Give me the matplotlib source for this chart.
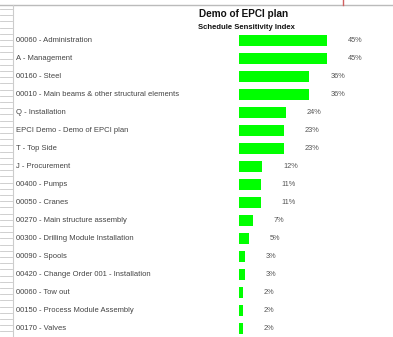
import matplotlib.pyplot as plt
from matplotlib.transforms import blended_transform_factory
from matplotlib.lines import Line2D

# Schedule sensitivity index per task
tasks = [
    "00060 - Administration",
    "A - Management",
    "00160 - Steel",
    "00010 - Main beams & other structural elements",
    "Q - Installation",
    "EPCI Demo - Demo of EPCI plan",
    "T - Top Side",
    "J - Procurement",
    "00400 - Pumps",
    "00050 - Cranes",
    "00270 - Main structure assembly",
    "00300 - Drilling Module Installation",
    "00090 - Spools",
    "00420 - Change Order 001 - Installation",
    "00060 - Tow out",
    "00150 - Process Module Assembly",
    "00170 - Valves",
]
ssi = [45, 45, 36, 36, 24, 23, 23, 12, 11, 11, 7, 5, 3, 3, 2, 2, 2]

W, H = 393, 337
fig = plt.figure(figsize=(W / 100, H / 100), dpi=100)
plt.rcParams['font.family'] = ['Liberation Sans', 'DejaVu Sans']

# bar area
ax_left = 239 / W
ax_w = 150 / W
top_px = 31.7
ax = fig.add_axes([ax_left, 0, ax_w, 1 - top_px / H])
rows = list(range(len(tasks)))
ax.barh(rows, ssi, height=0.58, color='#00ff00', edgecolor='none')
ax.set_xlim(0, 150 / 1.955)
ax.set_ylim((H - top_px) / 18 - 0.5, -0.5)
ax.axis('off')

# task labels on the left, value labels after the bars
tr = blended_transform_factory(fig.transFigure, ax.transData)
for r, name, v in zip(rows, tasks, ssi):
    ax.text(16 / W, r, name, transform=tr, fontsize=5.5, color='#444444',
            va='center', ha='left', clip_on=False)
    ax.annotate(f"{v}%", (v, r), xytext=(15, 0), textcoords='offset points',
                fontsize=5.3, color='#555555', va='center', ha='left',
                annotation_clip=False)

fig.text(244 / W, 1 - 14 / H, "Demo of EPCI plan", fontsize=7.2,
         fontweight='bold', ha='center', va='center', color='#111111')
fig.text(246 / W, 1 - 27.5 / H, "Schedule Sensitivity Index", fontsize=5.5,
         fontweight='bold', ha='center', va='center', color='#111111')

# spreadsheet frame bits
fig.add_artist(Line2D([0, 1], [1 - 4.5 / H] * 2, color='#bbbbbb', lw=1))
fig.add_artist(Line2D([13 / W] * 2, [0, 1 - 5 / H], color='#cccccc', lw=0.8))
y = 9
while y < H:
    fig.add_artist(Line2D([0, 12 / W], [1 - y / H] * 2, color='#c8c8c8', lw=0.6))
    y += 6.2
fig.add_artist(Line2D([343 / W] * 2, [1, 1 - 5 / H], color='#d06060', lw=1))

fig.savefig("out.png", dpi=100)
